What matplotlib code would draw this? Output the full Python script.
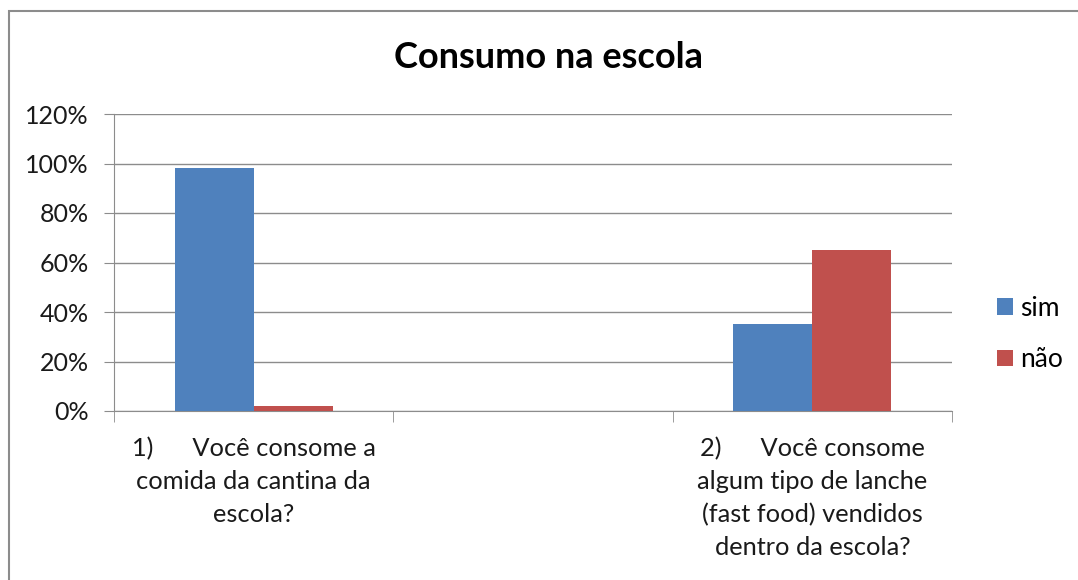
import matplotlib.pyplot as plt
from matplotlib.patches import Rectangle
from matplotlib.ticker import FuncFormatter

# data (the middle category is empty in the original)
categories = ["1)      Você consome a\ncomida da cantina da\nescola?",
              "",
              "2)      Você consome\nalgum tipo de lanche\n(fast food) vendidos\ndentro da escola?"]
sim = [0.98, None, 0.35]
nao = [0.02, None, 0.65]
series_names = ["sim", "não"]
yticks = [0, 0.2, 0.4, 0.6, 0.8, 1.0, 1.2]

plt.rcParams['font.family'] = ['Lato', 'DejaVu Sans']

fig = plt.figure(figsize=(10.78, 5.8), dpi=100)
ax = fig.add_axes([114/1078, 1 - 411/580, 838/1078, 297/580])

# chart border (cut off on the right and bottom in the original)
fig.patches.append(Rectangle((9/1078, -0.05), 1.1, 1 - 11/580 + 0.05,
                             transform=fig.transFigure, fill=False,
                             edgecolor='#8c8c8c', linewidth=1.5))

w = 0.283
xs = [i for i, v in enumerate(sim) if v is not None]
ax.bar([x - w/2 for x in xs], [sim[i] for i in xs], width=w,
       color='#4F81BD', label=series_names[0], zorder=3)
ax.bar([x + w/2 for x in xs], [nao[i] for i in xs], width=w,
       color='#C0504D', label=series_names[1], zorder=3)

ax.set_xlim(-0.5, 2.5)
ax.set_ylim(0, 1.2)
ax.set_yticks(yticks)
ax.yaxis.set_major_formatter(FuncFormatter(lambda v, p: f"{v*100:.0f}%"))
ax.yaxis.grid(True, color='#8c8c8c', linewidth=1, zorder=0)
ax.tick_params(axis='y', length=7, color='#8c8c8c', labelsize=18,
               labelcolor='#1a1a1a', pad=11)

ax.set_xticks(range(len(categories)))
ax.set_xticklabels(categories, fontsize=18.3, color='#1a1a1a', linespacing=1.5)
ax.tick_params(axis='x', which='major', length=0, pad=19)
ax.set_xticks([-0.5, 0.5, 1.5, 2.5], minor=True)
ax.tick_params(axis='x', which='minor', length=8, color='#8c8c8c')

for s in ['top', 'right']:
    ax.spines[s].set_visible(False)
for s in ['left', 'bottom']:
    ax.spines[s].set_color('#8c8c8c')

fig.text(548/1078, 1 - 58/580, "Consumo na escola", ha='center', va='center',
         fontsize=26, fontweight='bold', color='black')

fig.legend(loc='center left', bbox_to_anchor=(973/1078, 1 - 334/580),
           frameon=False, fontsize=19, handlelength=0.6, handleheight=0.6,
           handletextpad=0.3, labelspacing=1.0)

fig.savefig('out.png', dpi=100)
